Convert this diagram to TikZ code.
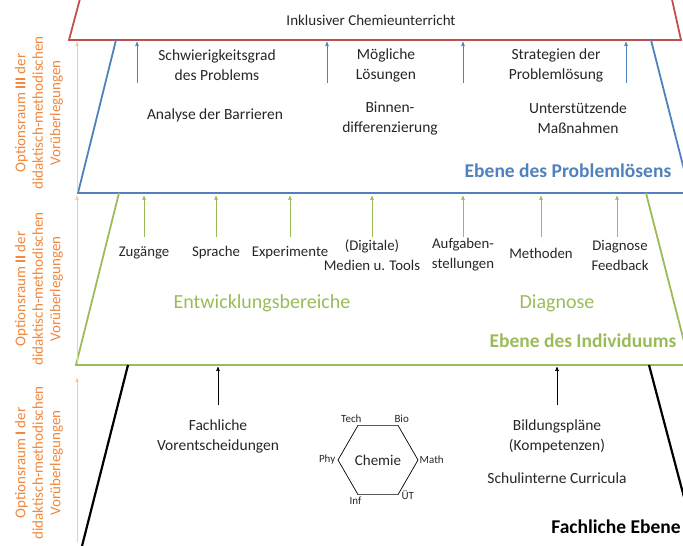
\documentclass[tikz,border=0pt]{standalone}
\usepackage{fontspec}
\setmainfont{Carlito}
\usepackage{tikz}
\usetikzlibrary{arrows,positioning,shapes.geometric}

\definecolor{ebeneRot}{RGB}{192,80,77}
\definecolor{ebeneBlau}{RGB}{79,129,189}
\definecolor{ebeneGruen}{RGB}{155,187,89}
\definecolor{raumOrange}{RGB}{240,135,60}

\begin{document}
\begin{tikzpicture}[x=1pt,y=-1pt,>=stealth',semithick]

\tikzset{
	plainText/.style={
		font=\fontsize{15.5}{20}\selectfont,
		align=center,
		inner sep=0pt,
		text=black!85
	}
}

\tikzset{
	smallText/.style={
		font=\fontsize{14.8}{20}\selectfont,
		align=center,
		inner sep=0pt,
		text=black!85
	}
}

\tikzset{
	ebeneTitle/.style={
		font=\bfseries\fontsize{19.5}{22}\selectfont,
		inner sep=0pt
	}
}

\tikzset{
	bereichText/.style={
		font=\fontsize{20}{23}\selectfont,
		inner sep=0pt,
		text=ebeneGruen
	}
}

\tikzset{
	raumText/.style={
		font=\fontsize{15}{17.5}\selectfont,
		align=center,
		inner sep=0pt,
		rotate=90,
		text=raumOrange
	}
}

\tikzset{
	hexText/.style={
		font=\fontsize{11}{13}\selectfont,
		inner sep=1pt,
		text=black!85
	}
}

\tikzset{layerLine/.style={line width=1.8pt, line join=miter}}
\tikzset{upArrow/.style={->, line width=0.6pt}}

\useasboundingbox (0,0) rectangle (683,546);
\clip (0,0) rectangle (683,546);

% Ebenen
\draw[layerLine, ebeneRot] (81,-5) -- (69,40) -- (681,40) -- (671,-5);
\draw[layerLine, ebeneBlau] (116,40) -- (78,193) -- (690,193) -- (651,40);
\draw[layerLine, ebeneGruen] (119,193) -- (76,365) -- (690,365) -- (646,193);
\draw[layerLine, black, line width=2.2pt] (128,365) -- (81,550);
\draw[layerLine, black, line width=2.2pt] (649,365) -- (698,550);

% Optionsraeume
\node[raumText] (raumIII) at (39,113) {Optionsraum \textbf{III} der\\didaktisch-methodischen\\Vorüberlegungen};
\node[raumText] (raumII) at (39,289) {Optionsraum \textbf{II} der\\didaktisch-methodischen\\Vorüberlegungen};
\node[raumText] (raumI) at (39,463) {Optionsraum \textbf{I} der\\didaktisch-methodischen\\Vorüberlegungen};

\coordinate (oIIIa) at (77,190);
\coordinate (oIIIb) at (77,42);
\coordinate (oIIa) at (77,362);
\coordinate (oIIb) at (77,196);
\coordinate (oIa) at (77,542);
\coordinate (oIb) at (77,378);
\draw[upArrow, raumOrange!45] (oIIIa) -- (oIIIb);
\draw[upArrow, raumOrange!45] (oIIa) -- (oIIb);
\draw[upArrow, raumOrange!45] (oIa) -- (oIb);

% Ebene: Inklusiver Chemieunterricht
\node[plainText, font=\fontsize{15}{18}\selectfont] (inklusiv) at (371,20) {Inklusiver Chemieunterricht};

% Ebene des Problemloesens
\node[plainText] (schwierig) at (217,65) {Schwierigkeitsgrad\\des Problems};
\node[plainText] (loesungen) at (386,65) {Mögliche\\Lösungen};
\node[plainText] (strategien) at (556,65) {Strategien der\\Problemlösung};
\node[plainText] (analyse) at (215,115) {Analyse der Barrieren};
\node[plainText] (binnen) at (390,118) {Binnen-\\differenzierung};
\node[plainText] (massnahmen) at (578,118) {Unterstützende\\Maßnahmen};
\node[ebeneTitle, text=ebeneBlau] (problem) at (568,171) {Ebene des Problemlösens};

\coordinate (bEnd) at (0,42);
\coordinate (bPfeilA) at (137,83);
\coordinate (bPfeilB) at (327,83);
\coordinate (bPfeilC) at (463,83);
\coordinate (bPfeilD) at (626,83);
\draw[upArrow, ebeneBlau] (bPfeilA) -- (bPfeilA |- bEnd);
\draw[upArrow, ebeneBlau] (bPfeilB) -- (bPfeilB |- bEnd);
\draw[upArrow, ebeneBlau] (bPfeilC) -- (bPfeilC |- bEnd);
\draw[upArrow, ebeneBlau] (bPfeilD) -- (bPfeilD |- bEnd);

% Ebene des Individuums
\node[smallText] (zugaenge) at (144,253) {Zugänge};
\node[smallText] (sprache) at (216,253) {Sprache};
\node[smallText] (experimente) at (290,253) {Experimente};
\node[smallText] (medien) at (372,255) {(Digitale)\\Medien u. Tools};
\node[smallText] (aufgaben) at (463,255) {Aufgaben-\\stellungen};
\node[smallText] (methoden) at (541,253) {Methoden};
\node[smallText] (feedback) at (620,255) {Diagnose\\Feedback};

\coordinate (gStart) at (0,237);
\coordinate (gEnd) at (0,196);
\draw[upArrow, ebeneGruen] (zugaenge |- gStart) -- (zugaenge |- gEnd);
\draw[upArrow, ebeneGruen] (sprache |- gStart) -- (sprache |- gEnd);
\draw[upArrow, ebeneGruen] (experimente |- gStart) -- (experimente |- gEnd);
\draw[upArrow, ebeneGruen] (medien |- gStart) -- (medien |- gEnd);
\draw[upArrow, ebeneGruen] (aufgaben |- gStart) -- (aufgaben |- gEnd);
\draw[upArrow, ebeneGruen] (methoden |- gStart) -- (methoden |- gEnd);
\draw[upArrow, ebeneGruen] ([xshift=-3pt]feedback |- gStart) -- ([xshift=-3pt]feedback |- gEnd);

\node[bereichText] (entwicklung) at (262,303) {Entwicklungsbereiche};
\node[bereichText] (diagnose) at (557,303) {Diagnose};
\node[ebeneTitle, text=ebeneGruen] (individuum) at (583,341) {Ebene des Individuums};

% Fachliche Ebene
\node[plainText] (vorentscheid) at (218,436) {Fachliche\\Vorentscheidungen};
\node[plainText] (bildung) at (557,436) {Bildungspläne\\(Kompetenzen)};
\node[plainText] (curricula) at (557,478) {Schulinterne Curricula};
\node[ebeneTitle, text=black] (fachEbene) at (616,527) {Fachliche Ebene};

\coordinate (sStart) at (0,405);
\coordinate (sEnd) at (0,367);
\draw[upArrow, black] (vorentscheid |- sStart) -- (vorentscheid |- sEnd);
\draw[upArrow, black] (bildung |- sStart) -- (bildung |- sEnd);

\node[draw, regular polygon, regular polygon sides=6, minimum size=80pt, inner sep=0pt,
	line width=0.7pt, font=\fontsize{15}{17}\selectfont, text=black!85] (chemie) at (378,460) {Chemie};
\node[hexText, above left=1pt and -5pt of chemie.120] (tech) {Tech};
\node[hexText, above right=1pt and -5pt of chemie.60] (bio) {Bio};
\node[hexText, left=1pt of chemie.180] (phy) {Phy};
\node[hexText, right=0pt of chemie.0] (math) {Math};
\node[hexText, below left=1pt and -5pt of chemie.240] (inf) {Inf};
\node[hexText, right=2pt of chemie.300] (ut) {ÜT};

\end{tikzpicture}
\end{document}
